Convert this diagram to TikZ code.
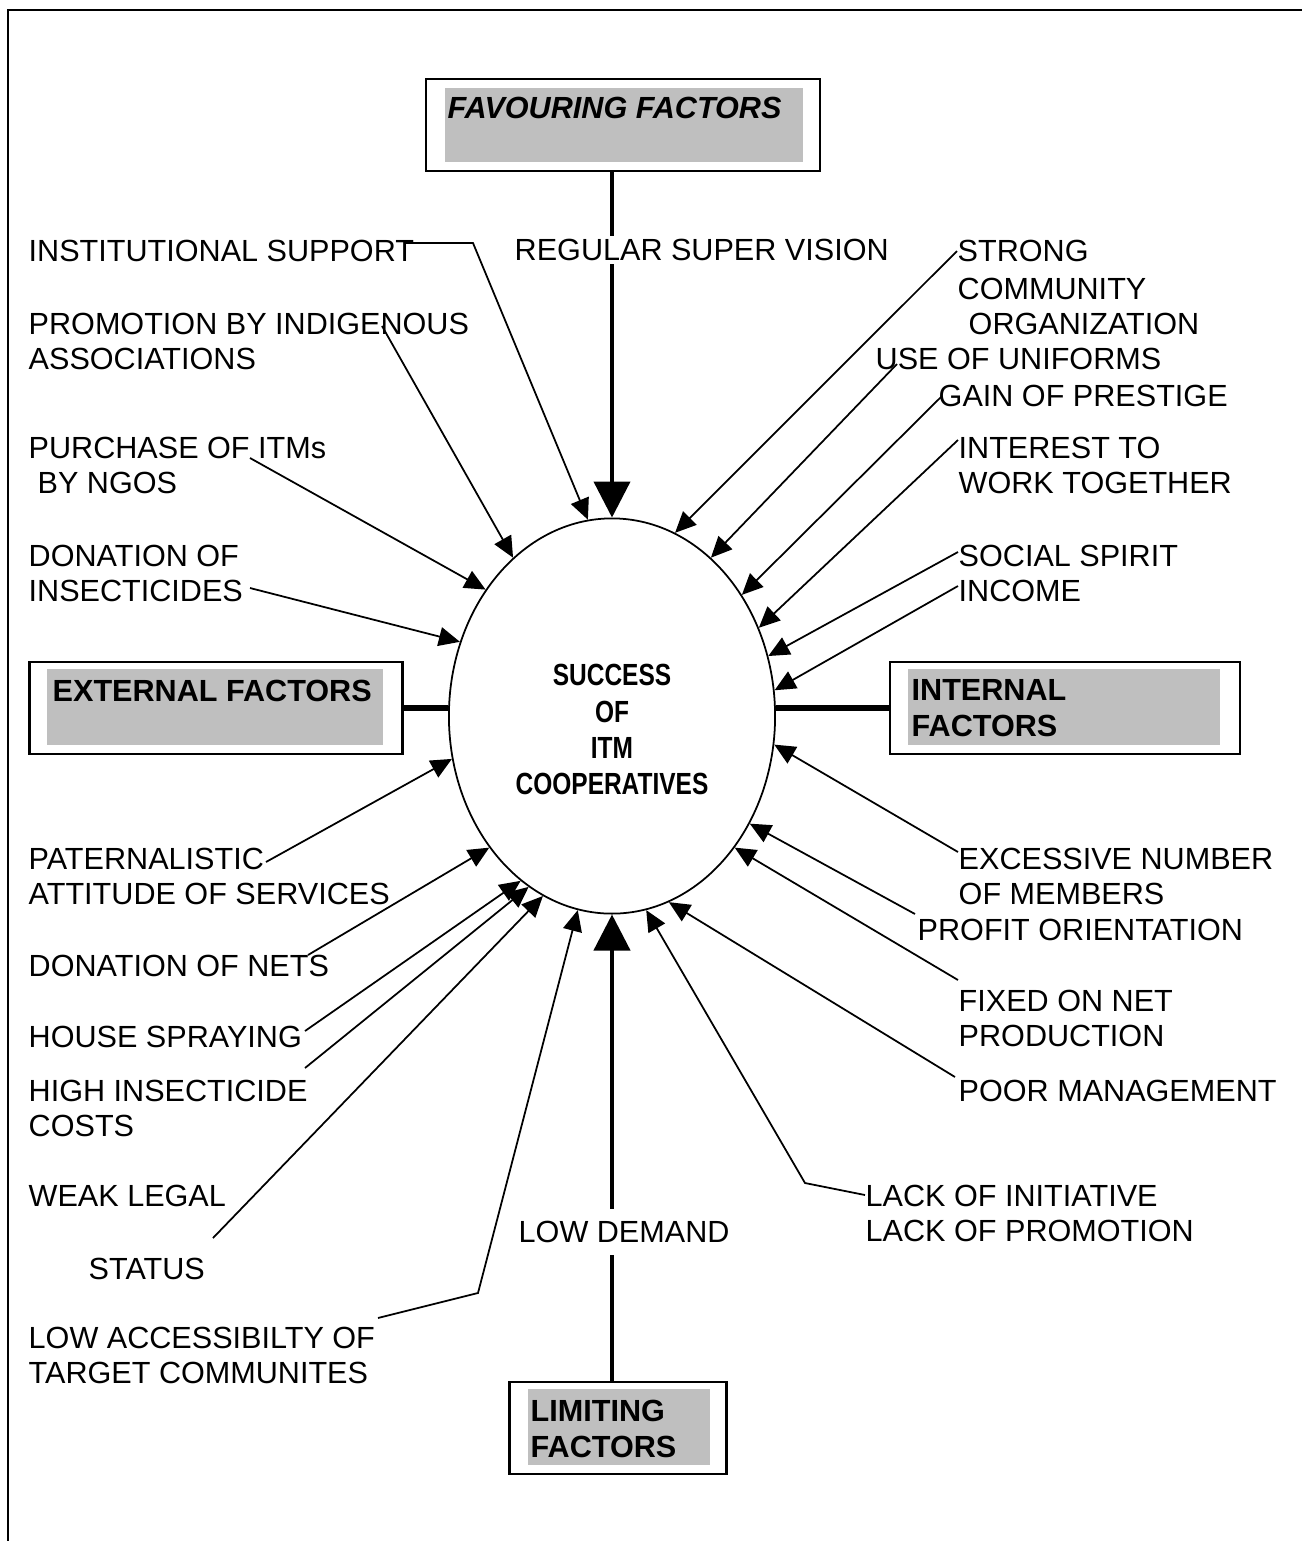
\documentclass[tikz,border=0pt]{standalone}
\usepackage{fontspec}
\setmainfont{Liberation Sans}
\usepackage{graphicx}
\usetikzlibrary{arrows.meta}
\usetikzlibrary{shapes.geometric}
\definecolor{boxgray}{gray}{0.75}
\newcommand{\lblfont}{\fontsize{8.7}{10}\selectfont}
\newcommand{\hdrfont}{\fontsize{8.7}{10.3}\selectfont\bfseries}
\tikzset{>={Triangle[length=2.1mm,width=1.9mm]}}
\tikzset{
  lbl/.style={font=\lblfont, inner sep=0pt, anchor=north west, align=left},
  hdr/.style={font=\hdrfont, inner sep=0pt, anchor=north west, align=left},
  feed/.style={->, line width=0.5pt},
  bigarr/.style={-{Triangle[length=3.6mm,width=3.6mm]}, line width=1.2pt},
  outerbox/.style={draw, line width=0.7pt, fill=white, inner sep=0pt, minimum height=0.92cm},
  graybox/.style={fill=boxgray, inner sep=0pt, minimum height=0.75cm},
}

\begin{document}
\begin{tikzpicture}[x=0.01cm, y=-0.01cm]
    \useasboundingbox (0,0) rectangle (1302,1541);
    % frame
    \draw[line width=0.7pt] (1302,10) -- (8,10) -- (8,1541);

    % the four factor boxes
    \node[outerbox, minimum width=3.94cm] (fav) at (623,125) {};
    \node[graybox, minimum width=3.58cm, minimum height=0.74cm] (favin) at (624,125) {};
    \node[hdr, font=\hdrfont\itshape] (favtxt) at (447,96) {FAVOURING FACTORS};

    \node[outerbox, minimum width=3.73cm] (ext) at (216,708) {};
    \node[graybox, minimum width=3.35cm] (extin) at (215,707) {};
    \node[hdr] (exttxt) at (52,679) {EXTERNAL FACTORS};

    \node[outerbox, minimum width=3.5cm] (int) at (1065,708) {};
    \node[graybox, minimum width=3.12cm] (intin) at (1064,707) {};
    \node[hdr] (inttxt) at (911,679) {INTERNAL\\FACTORS};

    \node[outerbox, minimum width=2.17cm] (lim) at (618,1428) {};
    \node[graybox, minimum width=1.82cm] (limin) at (619,1427) {};
    \node[hdr] (limtxt) at (530,1399) {LIMITING\\FACTORS};

    % centre
    \node[draw, ellipse, line width=0.5pt, inner sep=0pt,
          minimum width=3.26cm, minimum height=3.95cm] (succ) at (612,716) {};
    \node[font=\hdrfont, inner sep=0pt] (succtxt) at (612,733)
        {\scalebox{0.8}[1]{\begin{tabular}{@{}c@{}}SUCCESS\\OF\\ITM\\COOPERATIVES\end{tabular}}};

    % main connectors
    \draw[bigarr] (succ.north |- fav.south) -- (succ.north);
    \draw[bigarr] (succ.south |- lim.north) -- (succ.south);
    \draw[line width=1.6pt] (ext.east) -- (ext.east -| succ.west);
    \draw[line width=1.6pt] (int.west -| succ.east) -- (int.west);

    % favouring, external side
    \node[lbl] (inst) at (28,239) {INSTITUTIONAL SUPPORT};
    \node[lbl] (promo) at (28,312) {PROMOTION BY INDIGENOUS\\ASSOCIATIONS};
    \node[lbl] (purch) at (28,436) {PURCHASE OF ITMs\\\hspace*{0.09cm}BY NGOS};
    \node[lbl] (donins) at (28,544) {DONATION OF\\INSECTICIDES};
    \node[lbl, fill=white, inner ysep=1pt, anchor=west] (regsup) at (514,250) {REGULAR SUPER VISION};

    % favouring, internal side
    \node[lbl] (strong) at (957,239) {STRONG\\[1pt]COMMUNITY\\\hspace*{0.11cm}ORGANIZATION};
    \node[lbl] (unif) at (875,347) {USE OF UNIFORMS};
    \node[lbl] (gain) at (938,384) {GAIN OF PRESTIGE};
    \node[lbl] (inter) at (958,436) {INTEREST TO\\WORK TOGETHER};
    \node[lbl] (social) at (958,544) {SOCIAL SPIRIT};
    \node[lbl] (income) at (958,579) {INCOME};

    % limiting, external side
    \node[lbl] (patern) at (28,847) {PATERNALISTIC\\ATTITUDE OF SERVICES};
    \node[lbl] (nets) at (28,954) {DONATION OF NETS};
    \node[lbl] (house) at (28,1025) {HOUSE SPRAYING};
    \node[lbl] (high) at (28,1079) {HIGH INSECTICIDE\\COSTS};
    \node[lbl] (weak) at (28,1184) {WEAK LEGAL};
    \node[lbl] (status) at (88,1257) {STATUS};
    \node[lbl] (lowacc) at (28,1326) {LOW ACCESSIBILTY OF\\TARGET COMMUNITES};
    \node[lbl, fill=white, inner ysep=3.5pt, anchor=west] (lowdem) at (518,1232) {LOW DEMAND};

    % limiting, internal side
    \node[lbl] (excess) at (958,847) {EXCESSIVE NUMBER\\OF MEMBERS};
    \node[lbl] (profit) at (917,918) {PROFIT ORIENTATION};
    \node[lbl] (fixed) at (958,989) {FIXED ON NET\\PRODUCTION};
    \node[lbl] (poor) at (958,1079) {POOR MANAGEMENT};
    \node[lbl] (lack) at (865,1184) {LACK OF INITIATIVE\\LACK OF PROMOTION};

    % line ends near the labels
    \coordinate (instS) at (404,243);
    \coordinate (instB) at (473,243);
    \coordinate (promoS) at (382,326);
    \coordinate (purchS) at (250,458);
    \coordinate (doninsS) at (250,588);
    \coordinate (strongS) at (957,251);
    \coordinate (unifS) at (897,364);
    \coordinate (gainS) at (942,396);
    \coordinate (interS) at (958,440);
    \coordinate (socialS) at (958,552);
    \coordinate (incomeS) at (958,586);
    \coordinate (paternS) at (266,862);
    \coordinate (netsS) at (308,955);
    \coordinate (houseS) at (305,1031);
    \coordinate (highS) at (305,1068);
    \coordinate (weakS) at (213,1238);
    \coordinate (lowaccS) at (378,1318);
    \coordinate (lowaccB) at (478,1293);
    \coordinate (excessS) at (958,852);
    \coordinate (profitS) at (915,914);
    \coordinate (fixedS) at (958,980);
    \coordinate (poorS) at (955,1077);
    \coordinate (lackS) at (865,1195);
    \coordinate (lackB) at (805,1183);

    % feeding arrows
    \draw[feed] (instS) -- (instB) -- (succ.97);
    \draw[feed] (promoS) -- (succ.122);
    \draw[feed] (purchS) -- (succ.135);
    \draw[feed] (doninsS) -- (succ.154);
    \draw[feed] (strongS) -- (succ.71);
    \draw[feed] (unifS) -- (succ.58);
    \draw[feed] (gainS) -- (succ.43);
    \draw[feed] (interS) -- (succ.31);
    \draw[feed] (socialS) -- (succ.21);
    \draw[feed] (incomeS) -- (succ.9);
    \draw[feed] (paternS) -- (succ.195);
    \draw[feed] (netsS) -- (succ.227);
    \draw[feed] (houseS) -- (succ.241);
    \draw[feed] (highS) -- (succ.244);
    \draw[feed] (weakS) -- (succ.249);
    \draw[feed] (lowaccS) -- (lowaccB) -- (succ.260);
    \draw[feed] (excessS) -- (succ.350);
    \draw[feed] (profitS) -- (succ.322);
    \draw[feed] (fixedS) -- (succ.313);
    \draw[feed] (poorS) -- (succ.287);
    \draw[feed] (lackS) -- (lackB) -- (succ.280);
\end{tikzpicture}
\end{document}
